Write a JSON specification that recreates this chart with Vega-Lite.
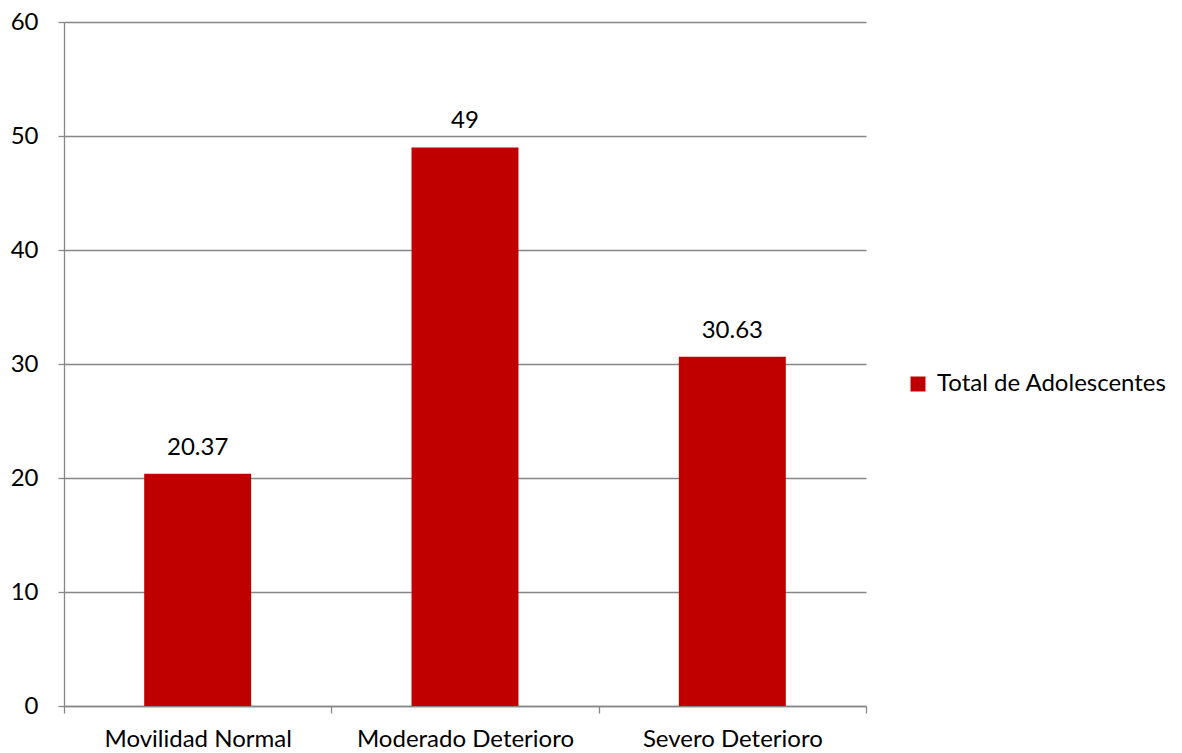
{
  "$schema": "https://vega.github.io/schema/vega-lite/v6.json",
  "width": 802,
  "height": 684,
  "autosize": {"type": "none"},
  "padding": {"left": 64, "top": 22, "right": 316, "bottom": 47},
  "background": "white",
  "data": {"values": [
    {"categoria": "Movilidad Normal", "valor": 20.37, "serie": "Total de Adolescentes", "etiqueta": "20.37"},
    {"categoria": "Moderado Deterioro", "valor": 49, "serie": "Total de Adolescentes", "etiqueta": "49"},
    {"categoria": "Severo Deterioro", "valor": 30.63, "serie": "Total de Adolescentes", "etiqueta": "30.63"}
  ]},
  "config": {
    "view": {"stroke": null},
    "font": "Lato",
    "axis": {"labelFont": "Lato", "labelFontSize": 24, "labelColor": "#000000", "domainColor": "#868686", "tickColor": "#868686", "gridColor": "#868686", "domainWidth": 1.3, "tickWidth": 1.3, "gridWidth": 1.3, "labelLimit": 400}
  },
  "layer": [
    {
      "mark": {"type": "bar", "color": "#C00000", "width": {"band": 0.4}},
      "encoding": {
        "x": {"field": "categoria", "type": "nominal", "sort": null,
              "scale": {"paddingInner": 0, "paddingOuter": 0},
              "axis": {"title": null, "labelAngle": 0, "tickBand": "extent", "tickSize": 7, "labelBaseline": "alphabetic", "labelPadding": 33, "grid": false, "labelFontSize": 24}},
        "y": {"field": "valor", "type": "quantitative",
              "scale": {"domain": [0, 60]},
              "axis": {"title": null, "values": [0,10,20,30,40,50,60], "tickSize": 6, "labelPadding": 20, "grid": true, "domain": true, "labelFontSize": 24}},
        "color": {"field": "serie", "type": "nominal",
                  "scale": {"range": ["#C00000"]},
                  "legend": {"title": null, "orient": "none", "legendX": 842, "legendY": 350, "symbolType": "square", "symbolSize": 225, "labelFontSize": 24, "labelFont": "Lato", "labelColor": "#000000", "labelOffset": 7, "labelLimit": 400}}
      }
    },
    {
      "mark": {"type": "text", "baseline": "alphabetic", "dy": -19, "fontSize": 24, "font": "Lato", "color": "#000000"},
      "encoding": {
        "x": {"field": "categoria", "type": "nominal", "sort": null},
        "y": {"field": "valor", "type": "quantitative"},
        "text": {"field": "etiqueta"}
      }
    }
  ]
}
